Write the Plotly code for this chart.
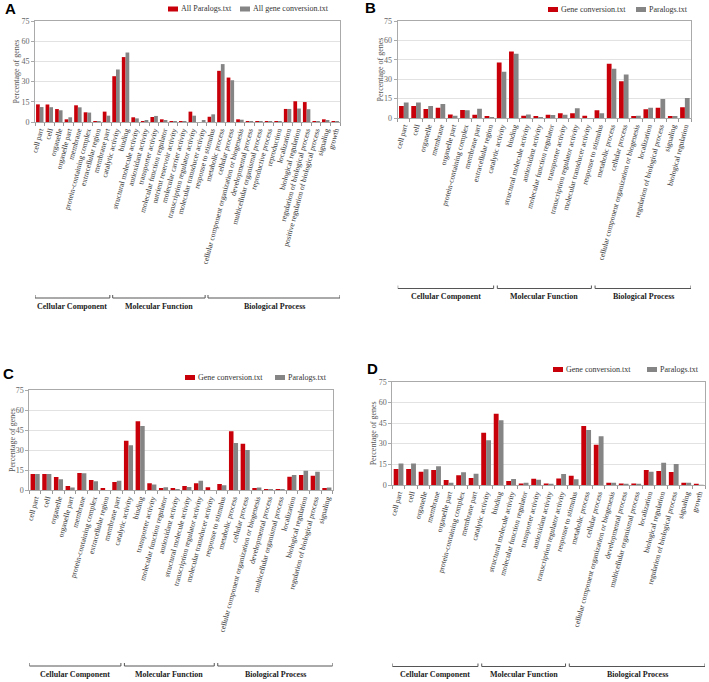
import plotly.graph_objects as go

W, H = 709, 682
def px(x): return x / W
def py(y): return 1 - y / H

RED = "#C8000A"
GRAY = "#858585"
SERIF = "Liberation Serif"

# ---------------- data ----------------
cats_a = ["cell part", "cell", "organelle", "organelle part", "membrane", "protein-containing complex",
          "extracellular region", "membrane part", "catalytic activity", "binding",
          "structural molecule activity", "antioxidant activity", "transporter activity",
          "molecular function regulator", "nutrient reservoir activity", "molecular carrier activity",
          "transcription regulator activity", "molecular transducer activity", "response to stimulus",
          "metabolic process", "cellular process", "cellular component organization or biogenesis",
          "developmental process", "multicellular organismal process", "reproductive process",
          "reproduction", "localization", "biological regulation", "regulation of biological process",
          "positive regulation of biological process", "signaling", "growth"]
a_paralogs = [13.1, 13.0, 9.6, 2.0, 12.4, 7.2, 0.5, 7.7, 34.0, 48.2, 3.5, 0.7, 3.7, 2.0, 0.2, 0.1,
              7.7, 0.0, 3.9, 38.0, 33.0, 2.0, 0.5, 0.4, 0.2, 0.2, 9.7, 15.4, 14.8, 0.1, 2.0, 0.4]
a_geneconv = [11.1, 11.0, 8.7, 3.5, 10.9, 7.0, 0.7, 4.7, 39.0, 51.6, 2.7, 1.0, 4.5, 1.5, 0.1, 0.1,
              4.7, 1.3, 5.7, 43.0, 31.0, 1.7, 0.4, 0.3, 0.2, 0.3, 9.7, 10.0, 9.5, 0.1, 1.5, 0.3]
groups_a = [8, 10, 14]

cats_b = ["cell part", "cell", "organelle", "membrane", "organelle part", "protein-containing complex",
          "membrane part", "extracellular region", "catalytic activity", "binding",
          "structural molecule activity", "antioxidant activity", "molecular function regulator",
          "transporter activity", "transcription regulator activity", "molecular transducer activity",
          "response to stimulus", "metabolic process", "cellular process",
          "cellular component organization or biogenesis", "localization",
          "regulation of biological process", "signaling", "biological regulation"]
b_geneconv = [9.3, 9.3, 7.0, 8.0, 2.8, 6.2, 2.6, 1.0, 43.0, 51.4, 1.8, 1.0, 2.6, 3.6, 3.6, 1.8,
              5.9, 42.0, 28.4, 1.0, 6.7, 8.0, 1.3, 8.3]
b_paralogs = [11.9, 11.9, 9.3, 10.9, 1.8, 5.9, 7.2, 0.3, 35.7, 49.6, 2.8, 0.5, 2.3, 2.6, 7.5, 0.0,
              3.6, 38.0, 33.6, 1.8, 8.0, 14.7, 1.5, 15.5]
groups_b = [8, 8, 8]

cats_c = ["cell part", "cell", "organelle", "organelle part", "membrane", "protein-containing complex",
          "extracellular region", "membrane part", "catalytic activity", "binding", "transporter activity",
          "molecular function regulator", "antioxidant activity", "structural molecule activity",
          "transcription regulator activity", "molecular transducer activity", "response to stimulus",
          "metabolic process", "cellular process", "cellular component organization or biogenesis",
          "developmental process", "multicellular organismal process", "localization",
          "biological regulation", "regulation of biological process", "signaling"]
c_geneconv = [12.0, 12.0, 9.8, 3.0, 12.8, 7.5, 1.0, 6.0, 37.0, 51.5, 5.0, 1.0, 1.0, 3.0, 5.0, 2.0,
              4.5, 44.0, 34.7, 1.5, 0.5, 0.5, 10.0, 11.2, 10.7, 1.0]
c_paralogs = [12.0, 12.0, 8.0, 1.8, 12.5, 6.5, 0.0, 7.0, 33.5, 48.0, 4.2, 2.0, 0.3, 2.2, 7.0, 0.0,
              3.5, 35.2, 30.0, 1.8, 0.3, 0.3, 11.2, 14.5, 13.7, 1.8]
groups_c = [8, 8, 10]

cats_d = ["cell part", "cell", "organelle", "membrane", "organelle part", "protein-containing complex",
          "membrane part", "catalytic activity", "binding", "structural molecule activity",
          "molecular function regulator", "transporter activity", "antioxidant activity",
          "transcription regulator activity", "response to stimulus", "metabolic process",
          "cellular process", "cellular component organization or biogenesis", "developmental process",
          "multicellular organismal process", "localization", "biological regulation",
          "regulation of biological process", "signaling", "growth"]
d_geneconv = [11.6, 11.6, 9.7, 10.9, 3.6, 7.0, 5.0, 38.0, 51.8, 2.9, 1.0, 4.6, 1.0, 4.8, 6.8,
              42.9, 29.3, 1.7, 1.0, 1.0, 10.9, 10.2, 9.4, 1.7, 0.5]
d_paralogs = [15.7, 15.7, 11.4, 13.6, 1.7, 9.2, 8.2, 32.4, 47.0, 4.4, 1.7, 3.9, 0.5, 8.0, 4.1,
              40.0, 35.4, 1.7, 0.4, 0.3, 9.7, 16.2, 15.3, 1.7, 0.2]
groups_d = [7, 7, 11]

group_names = ["Cellular Component", "Molecular Function", "Biological Process"]
y_ticks = [0, 15, 30, 45, 60, 75]

# ---------------- panel layout (pixels) ----------------
panels = [
    dict(letter="A", cats=cats_a, s1=a_paralogs, s2=a_geneconv, n1="All Paralogs.txt",
         n2="All gene conversion.txt", groups=groups_a,
         box=(35, 340, 21, 122), letter_xy=(10, 9), ytitle_x=16,
         leg=(168, 240, 9), bracket_y=298, gtext_y=306.5),
    dict(letter="B", cats=cats_b, s1=b_geneconv, s2=b_paralogs, n1="Gene conversion.txt",
         n2="Paralogs.txt", groups=groups_b,
         box=(397.7, 691, 21, 118), letter_xy=(370, 8), ytitle_x=380,
         leg=(548, 636, 9.5), bracket_y=288.5, gtext_y=296),
    dict(letter="C", cats=cats_c, s1=c_geneconv, s2=c_paralogs, n1="Gene conversion.txt",
         n2="Paralogs.txt", groups=groups_c,
         box=(29.3, 332.7, 390, 490), letter_xy=(8, 373), ytitle_x=12,
         leg=(185, 275, 377.5), bracket_y=666, gtext_y=674),
    dict(letter="D", cats=cats_d, s1=d_geneconv, s2=d_paralogs, n1="Gene conversion.txt",
         n2="Paralogs.txt", groups=groups_d,
         box=(392.3, 705, 381.7, 485), letter_xy=(372, 368), ytitle_x=373,
         leg=(553, 647, 369.5), bracket_y=666.5, gtext_y=674.5),
]

fig = go.Figure()
shapes = []
annotations = []
layout_axes = {}

for i, p in enumerate(panels):
    k = "" if i == 0 else str(i + 1)
    xa, ya = "x" + k, "y" + k
    fig.add_trace(go.Bar(x=p["cats"], y=p["s1"], name=p["n1"], marker_color=RED,
                         marker_line_width=0, xaxis=xa, yaxis=ya, showlegend=False))
    fig.add_trace(go.Bar(x=p["cats"], y=p["s2"], name=p["n2"], marker_color=GRAY,
                         marker_line_width=0, xaxis=xa, yaxis=ya, showlegend=False))
    x0, x1, y0, y1 = p["box"]
    layout_axes["xaxis" + k] = dict(
        domain=[px(x0), px(x1)], anchor=ya, type="category",
        categoryorder="array", categoryarray=p["cats"],
        tickmode="linear", tick0=0, dtick=1, tickangle=-75,
        tickfont=dict(family=SERIF, size=7.6, color="#333333"),
        ticks="outside", tickson="boundaries", ticklen=3, tickcolor="#999999",
        showline=True, linecolor="#AAAAAA", linewidth=1, mirror=True,
        showgrid=False, zeroline=False, automargin=False,
        range=[-0.5, len(p["cats"]) - 0.5], fixedrange=True)
    layout_axes["yaxis" + k] = dict(
        domain=[py(y1), py(y0)], anchor=xa, range=[0, 75],
        tickmode="array", tickvals=y_ticks,
        tickfont=dict(family=SERIF, size=8, color="#666666"),
        ticks="outside", ticklen=3, tickcolor="#AAAAAA",
        showline=True, linecolor="#AAAAAA", linewidth=1, mirror=True,
        showgrid=True, gridcolor="#E2E2E2", gridwidth=1, zeroline=False,
        automargin=False, fixedrange=True)
    # y title
    annotations.append(dict(text="Percentage of genes", x=px(p["ytitle_x"]), y=py((y0 + y1) / 2),
                            xref="paper", yref="paper", xanchor="center", yanchor="middle",
                            textangle=-90, showarrow=False,
                            font=dict(family=SERIF, size=8, color="#555555")))
    # panel letter
    lx, ly = p["letter_xy"]
    annotations.append(dict(text="<b>%s</b>" % p["letter"], x=px(lx), y=py(ly), xref="paper",
                            yref="paper", xanchor="center", yanchor="middle", showarrow=False,
                            font=dict(family="Liberation Sans", size=15, color="black")))
    # legend
    rx, gx, ly2 = p["leg"]
    for sx, col, name in ((rx, RED, p["n1"]), (gx, GRAY, p["n2"])):
        shapes.append(dict(type="rect", xref="paper", yref="paper", x0=px(sx), x1=px(sx + 10),
                           y0=py(ly2 + 2.5), y1=py(ly2 - 2.5), fillcolor=col, line_width=0))
        annotations.append(dict(text=name, x=px(sx + 11), y=py(ly2), xref="paper", yref="paper",
                                xanchor="left", yanchor="middle", showarrow=False,
                                font=dict(family=SERIF, size=8, color="#333333")))
    # group brackets
    start = 0
    n = len(p["cats"])
    for g, cnt in enumerate(p["groups"]):
        end = start + cnt - 1
        bx0 = start - 0.5 + (0.15 if start > 0 else 0)
        bx1 = end + 0.5 - (0.15 if end < n - 1 else 0)
        by = py(p["bracket_y"])
        bt = py(p["bracket_y"] - 3)
        ln = dict(color="#555555", width=1)
        shapes.append(dict(type="line", xref=xa, yref="paper", x0=bx0, x1=bx1, y0=by, y1=by, line=ln))
        shapes.append(dict(type="line", xref=xa, yref="paper", x0=bx0, x1=bx0, y0=by, y1=bt, line=ln))
        shapes.append(dict(type="line", xref=xa, yref="paper", x0=bx1, x1=bx1, y0=by, y1=bt, line=ln))
        annotations.append(dict(text="<b>%s</b>" % group_names[g], x=(bx0 + bx1) / 2,
                                y=py(p["gtext_y"]), xref=xa, yref="paper",
                                xanchor="center", yanchor="middle", showarrow=False,
                                font=dict(family=SERIF, size=8, color="#222222")))
        start = end + 1

fig.update_layout(
    width=W, height=H, margin=dict(l=0, r=0, t=0, b=0),
    paper_bgcolor="white", plot_bgcolor="white", template="none",
    barmode="group", bargap=0.22, bargroupgap=0.0,
    shapes=shapes, annotations=annotations, showlegend=False,
    **layout_axes)

fig.write_html("out.html", config={"displayModeBar": False},
               post_script="document.body.style.margin='0px';")
